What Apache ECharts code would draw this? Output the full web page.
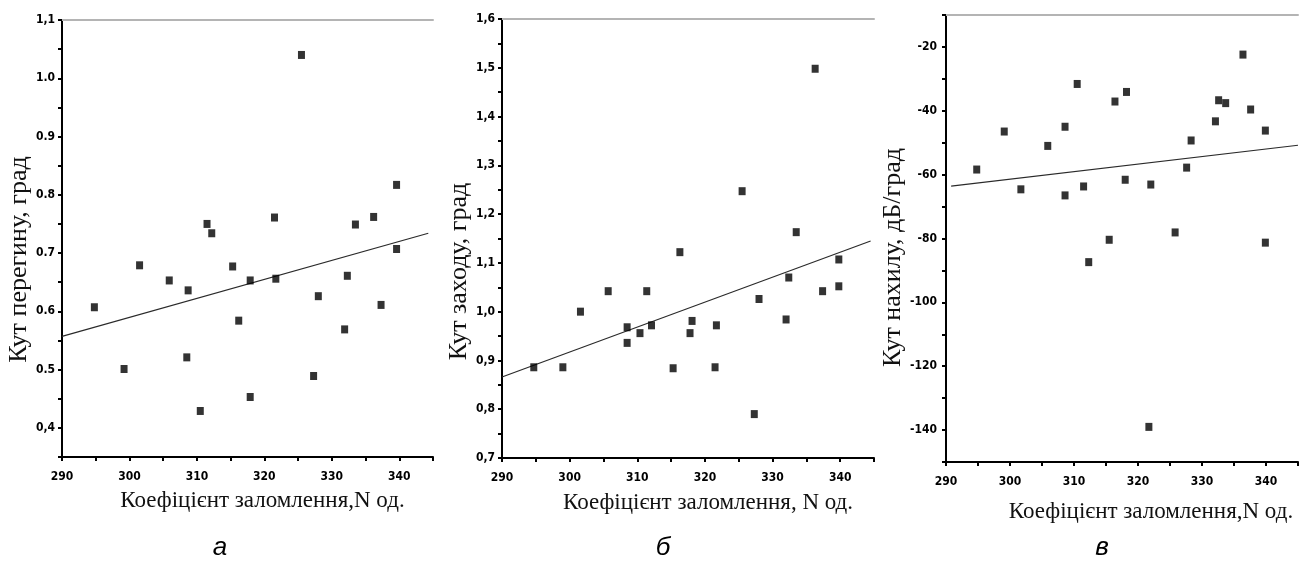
<!DOCTYPE html>
<html>
<head>
<meta charset="utf-8">
<script src="https://cdn.jsdelivr.net/npm/echarts@6/dist/echarts.min.js"></script>
<style>
  html, body { margin: 0; padding: 0; background: #fff; }
  #chart { width: 1301px; height: 567px; }
</style>
</head>
<body>
<div id="chart"></div>
<script>
// Refraction coefficient N (x) against three angle measures, 25 samples each
const nA = [294.8, 299.2, 301.5, 305.9, 308.7, 308.5, 310.5, 311.5, 312.2, 315.3, 316.2, 317.9, 317.9,
            321.5, 321.7, 325.5, 327.3, 328.0, 331.9, 332.3, 333.5, 336.2, 337.3, 339.6, 339.6];
const bendAngle = [0.607, 0.501, 0.679, 0.653, 0.636, 0.521, 0.429, 0.750, 0.734, 0.677, 0.584, 0.653, 0.453,
                   0.761, 0.656, 1.040, 0.489, 0.626, 0.569, 0.661, 0.749, 0.762, 0.611, 0.817, 0.707];

const nB = [294.7, 299.0, 301.6, 305.7, 308.5, 308.5, 310.4, 311.4, 312.1, 315.3, 316.3, 317.8, 318.1,
            321.5, 321.7, 325.5, 327.3, 328.0, 332.0, 332.4, 333.5, 336.3, 337.4, 339.8, 339.8];
const entryAngle = [0.886, 0.886, 1.000, 1.042, 0.968, 0.936, 0.956, 1.042, 0.972, 0.884, 1.122, 0.956, 0.981,
                    0.886, 0.972, 1.247, 0.790, 1.026, 0.984, 1.070, 1.163, 1.498, 1.042, 1.107, 1.052];

const nC = [294.8, 299.1, 301.7, 305.9, 308.6, 308.6, 310.5, 311.5, 312.3, 315.5, 316.4, 318.0, 318.2,
            321.7, 322.0, 325.8, 327.6, 328.3, 332.1, 332.6, 333.7, 336.4, 337.6, 339.9, 339.9];
const slopeAngle = [-58.4, -46.5, -64.6, -51.0, -45.0, -66.5, -31.6, -63.7, -87.4, -80.4, -37.1, -61.6, -34.1,
                    -139.0, -63.1, -78.1, -57.8, -49.3, -43.3, -36.7, -37.6, -22.4, -39.6, -46.2, -81.3];

// Linear trend lines (end points)
const fitAx = [290, 344.3], fitAy = [0.557, 0.734];
const fitBx = [290, 344.5], fitBy = [0.866, 1.145];
const fitCx = [290.8, 345], fitCy = [-63.6, -50.8];

// Tick labels
const xTickValues = [290, 300, 310, 320, 330, 340];
const xTickLabels = ['290', '300', '310', '320', '330', '340'];
const yTicksA = [0.4, 0.5, 0.6, 0.7, 0.8, 0.9, 1.0, 1.1];
const yLabelsA = ['0,4', '0.5', '0.6', '0.7', '0.8', '0.9', '1.0', '1,1'];
const yTicksB = [0.7, 0.8, 0.9, 1.0, 1.1, 1.2, 1.3, 1.4, 1.5, 1.6];
const yLabelsB = ['0,7', '0,8', '0,9', '1,0', '1,1', '1,2', '1,3', '1,4', '1,5', '1,6'];
const yTicksC = [-140, -120, -100, -80, -60, -40, -20];
const yLabelsC = ['-140', '-120', '-100', '-80', '-60', '-40', '-20'];

const xTitle = 'Коефіцієнт заломлення,N од.';
const xTitleB = 'Коефіцієнт заломлення, N од.';
const yTitleA = 'Кут перегину, град';
const yTitleB = 'Кут заходу, град';
const yTitleC = 'Кут нахилу, дБ/град';
const panelLetters = ['а', 'б', 'в'];

const zip = (xs, ys) => xs.map((x, i) => [x, ys[i]]);
const pick = (vals, labels) => v => {
  const i = vals.findIndex(t => Math.abs(t - v) < 1e-6);
  return i < 0 ? '' : labels[i];
};

const tickFont = '"Liberation Sans Narrow", "DejaVu Sans Condensed", sans-serif';
const titleFont = '"Liberation Serif", "Times New Roman", serif';

const grids = [
  { left: 62, top: 20, width: 371, height: 437 },
  { left: 502, top: 19, width: 372, height: 439 },
  { left: 946, top: 15, width: 361, height: 447 }
];

function bottomX(gi, name, gap, shift) {
  return {
    type: 'value', gridIndex: gi, position: 'bottom', min: 290, max: 345, interval: 5,
    name: name, nameLocation: 'middle', nameGap: gap,
    nameTextStyle: { fontFamily: titleFont, fontSize: 23, color: '#111', padding: [0, 0, 0, 2 * shift] },
    axisLine: { show: true, onZero: false, lineStyle: { color: '#000', width: 2 } },
    axisTick: { show: true, inside: false, length: 4, lineStyle: { color: '#000', width: 2 } },
    axisLabel: { margin: 14, fontFamily: tickFont, fontWeight: 'bold', fontSize: 12, color: '#000',
                 formatter: pick(xTickValues, xTickLabels), showMinLabel: true, showMaxLabel: true },
    splitLine: { show: false }
  };
}
function topX(gi) {
  return {
    type: 'value', gridIndex: gi, position: 'top', min: 290, max: 345,
    axisLine: { show: true, onZero: false, lineStyle: { color: '#b4b4b4', width: 2 } },
    axisTick: { show: false }, axisLabel: { show: false }, splitLine: { show: false }
  };
}
function leftY(gi, min, max, interval, vals, labels, name, gap, shift, margin) {
  return {
    type: 'value', gridIndex: gi, position: 'left', min: min, max: max, interval: interval,
    name: name, nameLocation: 'middle', nameGap: gap,
    nameTextStyle: { fontFamily: titleFont, fontSize: 26, color: '#111', padding: [0, 2 * shift, 0, 0] },
    axisLine: { show: true, onZero: false, lineStyle: { color: '#000', width: 2 } },
    axisTick: { show: true, inside: false, length: 4, lineStyle: { color: '#000', width: 2 } },
    axisLabel: { margin: margin, fontFamily: tickFont, fontWeight: 'bold', fontSize: 12, color: '#000',
                 formatter: pick(vals, labels), showMinLabel: true, showMaxLabel: true },
    splitLine: { show: false }
  };
}

function scatter(i, pts) {
  return { type: 'scatter', xAxisIndex: i, yAxisIndex: i, data: pts, symbol: 'rect',
           symbolSize: [7, 8], itemStyle: { color: '#000' }, silent: true, z: 3 };
}
function trend(i, pts) {
  return { type: 'line', xAxisIndex: i, yAxisIndex: i, data: pts, showSymbol: false, symbol: 'none',
           lineStyle: { color: '#2a2a2a', width: 1.2 }, silent: true, z: 2 };
}

const chart = echarts.init(document.getElementById('chart'), null, { renderer: 'canvas' });
chart.setOption({
  backgroundColor: '#fff',
  animation: false,
  grid: grids,
  xAxis: [
    bottomX(0, xTitle, 32, 15), bottomX(1, xTitleB, 33, 20), bottomX(2, xTitle, 38, 29),
    topX(0), topX(1), topX(2)
  ],
  yAxis: [
    leftY(0, 0.35, 1.1, 0.05, yTicksA, yLabelsA, yTitleA, 27, 21, 7),
    leftY(1, 0.7, 1.6, 0.05, yTicksB, yLabelsB, yTitleB, 27, 33, 7),
    leftY(2, -150, -10, 10, yTicksC, yLabelsC, yTitleC, 31, 19, 9)
  ],
  series: [
    scatter(0, zip(nA, bendAngle)), trend(0, zip(fitAx, fitAy)),
    scatter(1, zip(nB, entryAngle)), trend(1, zip(fitBx, fitBy)),
    scatter(2, zip(nC, slopeAngle)), trend(2, zip(fitCx, fitCy))
  ],
  graphic: panelLetters.map((t, i) => ({
    type: 'text', x: [220, 663, 1102][i], y: 548,
    style: { text: t, font: 'italic 26px "Liberation Sans", Arial, sans-serif', fill: '#000',
             textAlign: 'center', textVerticalAlign: 'middle' }
  }))
});
</script>
</body>
</html>
